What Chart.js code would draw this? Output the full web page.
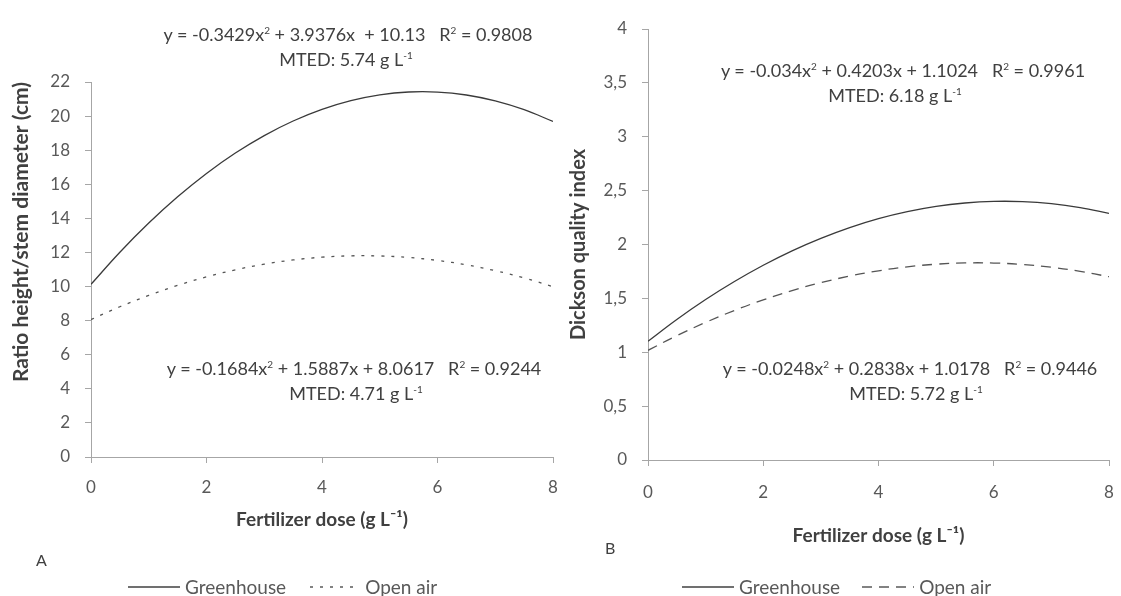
<!DOCTYPE html>
<html>
<head>
<meta charset="utf-8">
<script src="https://cdn.jsdelivr.net/npm/chart.js@4/dist/chart.umd.min.js"></script>
<style>
  html, body { margin: 0; padding: 0; background: #ffffff; }
  body { width: 1121px; height: 596px; position: relative; overflow: hidden; font-family: Lato, "Open Sans", sans-serif; color: #404040; }
  .panel { position: absolute; top: 0; }
  .note { position: absolute; transform: translate(-50%, -50%); white-space: nowrap; font-size: 18px; color: #404040; }
  .note sup { font-size: 10px; vertical-align: 7px; line-height: 0; }
  .tag { position: absolute; font-size: 16px; color: #404040; }
  .legend { position: absolute; display: flex; align-items: center; font-size: 19px; color: #595959; white-space: nowrap; }
  .legend svg { margin-right: 5px; }
  .legend span { margin-right: 22px; }
</style>
</head>
<body>
<div class="panel" style="left:0;width:560px;height:596px"><canvas id="chartA" width="560" height="596"></canvas></div>
<div class="panel" style="left:560px;width:561px;height:596px"><canvas id="chartB" width="561" height="596"></canvas></div>

<div class="note" style="left:348px;top:34px">y = -0.3429x<sup>2</sup> + 3.9376x&nbsp; + 10.13&nbsp;&nbsp; R<sup>2</sup> = 0.9808</div>
<div class="note" style="left:346px;top:59px">MTED: 5.74 g L<sup>-1</sup></div>
<div class="note" style="left:354px;top:368px">y = -0.1684x<sup>2</sup> + 1.5887x + 8.0617&nbsp;&nbsp; R<sup>2</sup> = 0.9244</div>
<div class="note" style="left:356px;top:393px">MTED: 4.71 g L<sup>-1</sup></div>

<div class="note" style="left:903px;top:70px">y = -0.034x<sup>2</sup> + 0.4203x + 1.1024&nbsp;&nbsp; R<sup>2</sup> = 0.9961</div>
<div class="note" style="left:895px;top:95px">MTED: 6.18 g L<sup>-1</sup></div>
<div class="note" style="left:910px;top:368px">y = -0.0248x<sup>2</sup> + 0.2838x + 1.0178&nbsp;&nbsp; R<sup>2</sup> = 0.9446</div>
<div class="note" style="left:916px;top:393px">MTED: 5.72 g L<sup>-1</sup></div>

<div class="tag" style="left:36px;top:550px">A</div>
<div class="tag" style="left:605px;top:538px">B</div>

<div class="legend" style="left:128px;top:575px">
  <svg width="52" height="4"><line x1="0" y1="2" x2="52" y2="2" stroke="#404040" stroke-width="1.3"/></svg><span>Greenhouse</span>
  <svg width="52" height="4"><line x1="2" y1="2" x2="52" y2="2" stroke="#595959" stroke-width="1.3" stroke-dasharray="3 7"/></svg><span>Open air</span>
</div>
<div class="legend" style="left:682px;top:575px">
  <svg width="52" height="4"><line x1="0" y1="2" x2="52" y2="2" stroke="#404040" stroke-width="1.3"/></svg><span>Greenhouse</span>
  <svg width="52" height="4"><line x1="0" y1="2" x2="52" y2="2" stroke="#595959" stroke-width="1.3" stroke-dasharray="10 7"/></svg><span>Open air</span>
</div>

<script>
// Fertilizer doses (g L-1)
const doses = [0, 0.5, 1, 1.5, 2, 2.5, 3, 3.5, 4, 4.5, 5, 5.5, 6, 6.5, 7, 7.5, 8];

// Panel A: ratio height / stem diameter
const ratioGreenhouse = [10.130, 12.013, 13.725, 15.265, 16.634, 17.831, 18.857, 19.711, 20.394,
                         20.906, 21.246, 21.414, 21.411, 21.237, 20.891, 20.374, 19.685];
const ratioOpenAir = [8.062, 8.814, 9.482, 10.066, 10.566, 10.981, 11.312, 11.559, 11.722,
                      11.801, 11.795, 11.705, 11.532, 11.273, 10.931, 10.504, 9.994];

// Panel B: Dickson quality index
const dqiGreenhouse = [1.102, 1.304, 1.489, 1.656, 1.807, 1.941, 2.057, 2.157, 2.240,
                       2.305, 2.354, 2.385, 2.400, 2.398, 2.379, 2.342, 2.289];
const dqiOpenAir = [1.018, 1.154, 1.277, 1.388, 1.486, 1.572, 1.646, 1.707, 1.756,
                    1.793, 1.817, 1.829, 1.828, 1.815, 1.789, 1.751, 1.701];

// Axis ranges and tick steps
const xTicks = { min: 0, max: 8, step: 2 };
const yTicksA = { min: 0, max: 22, step: 2 };
const yTicksB = { min: 0, max: 4, step: 0.5 };

const seriesNames = ['Greenhouse', 'Open air'];
const axisTitles = {
  x: 'Fertilizer dose (g L\u207B\u00B9)',
  yA: 'Ratio height/stem diameter (cm)',
  yB: 'Dickson quality index'
};

const pts = (ys) => doses.map((x, i) => ({ x, y: ys[i] }));

const tickFont = { family: 'Lato', size: 17 };
const xTitleFont = { family: 'Lato', size: 19, weight: 'bold' };
const axisGrey = '#a6a6a6';

function makeConfig(opts) {
  return {
    type: 'line',
    data: {
      datasets: [
        { label: seriesNames[0], data: pts(opts.green), borderColor: '#3a3a3a', borderWidth: 1.3,
          pointRadius: 0, tension: 0.4, fill: false },
        { label: seriesNames[1], data: pts(opts.open), borderColor: '#555555', borderWidth: 1.3,
          borderDash: opts.dash, pointRadius: 0, tension: 0.4, fill: false }
      ]
    },
    options: {
      responsive: false,
      animation: false,
      events: [],
      layout: { padding: opts.pad },
      plugins: { legend: { display: false }, tooltip: { enabled: false } },
      scales: {
        x: {
          type: 'linear', min: xTicks.min, max: xTicks.max,
          afterFit: (s) => { s.height = opts.xHeight; s.paddingLeft = 0; s.paddingRight = 0; },
          border: { color: axisGrey, width: 1 },
          grid: { drawOnChartArea: false, drawTicks: true, tickLength: 6, color: axisGrey },
          ticks: { stepSize: xTicks.step, padding: opts.xPad, color: '#595959', font: tickFont, maxRotation: 0 },
          title: { display: true, text: axisTitles.x, color: '#404040', font: xTitleFont,
                   padding: { top: 0, bottom: opts.xTitleBottom } }
        },
        y: {
          type: 'linear', min: opts.yr.min, max: opts.yr.max,
          afterFit: (s) => { s.width = opts.yWidth; },
          border: { color: axisGrey, width: 1 },
          grid: { drawOnChartArea: false, drawTicks: true, tickLength: 6, color: axisGrey },
          ticks: { stepSize: opts.yr.step, padding: 15, color: '#595959', font: tickFont,
                   callback: opts.yFmt },
          title: { display: true, text: opts.yTitle, color: '#404040',
                   font: { family: 'Lato', size: opts.yTitleSize, weight: 'bold' },
                   align: opts.yAlign, padding: { top: opts.yTitleTop, bottom: 0 } }
        }
      }
    }
  };
}

new Chart(document.getElementById('chartA'), makeConfig({
  green: ratioGreenhouse, open: ratioOpenAir, dash: [3, 7],
  yr: yTicksA, yTitle: axisTitles.yA, yAlign: 'end', yTitleTop: 9, yTitleSize: 21,
  yFmt: (v) => String(v),
  pad: { left: 0, right: 7, top: 82, bottom: 0 },
  yWidth: 91, xHeight: 139, xPad: 14, xTitleBottom: 65
}));

new Chart(document.getElementById('chartB'), makeConfig({
  green: dqiGreenhouse, open: dqiOpenAir, dash: [10, 7],
  yr: yTicksB, yTitle: axisTitles.yB, yAlign: 'center', yTitleTop: 7, yTitleSize: 20,
  yFmt: (v) => String(v).replace('.', ','),
  pad: { left: 0, right: 12, top: 29, bottom: 0 },
  yWidth: 88, xHeight: 136, xPad: 16, xTitleBottom: 49
}));
</script>
</body>
</html>
